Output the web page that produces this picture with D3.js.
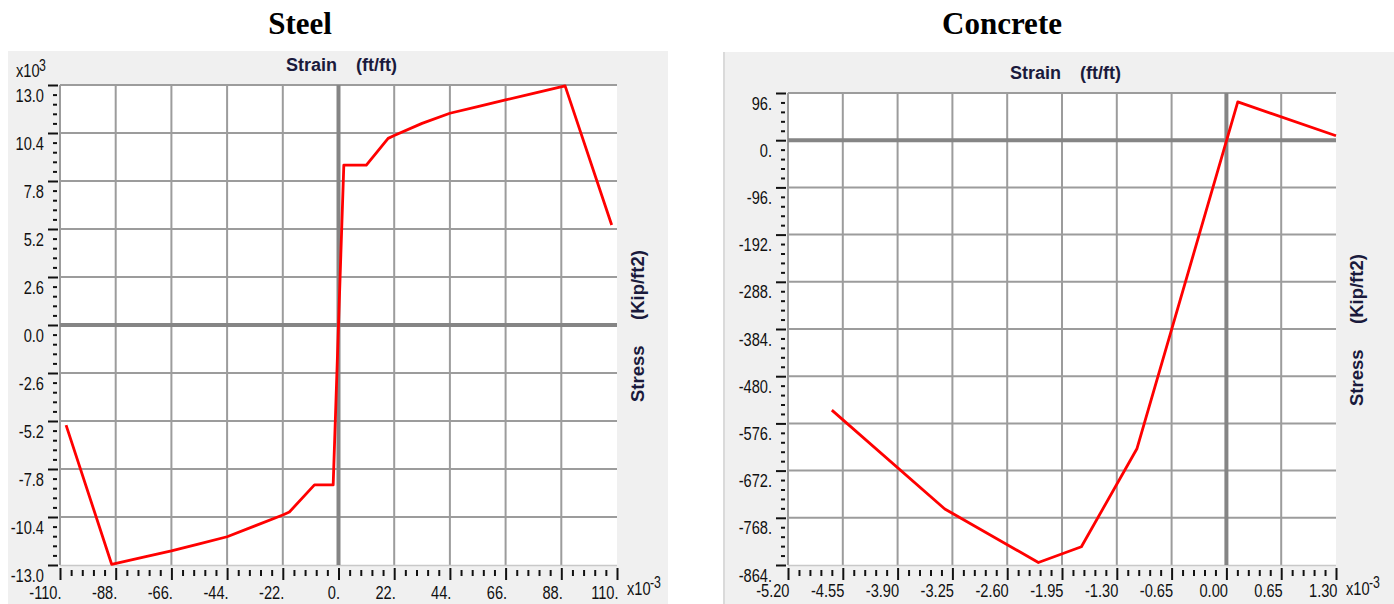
<!DOCTYPE html>
<html><head><meta charset="utf-8">
<script src="https://cdn.jsdelivr.net/npm/d3@7"></script>
<style>
html,body{margin:0;padding:0;background:#fff;}
svg{display:block;}
</style></head><body>
<svg id="c" width="1394" height="604"></svg>
<script>
// ---------- Steel (strain x10^-3 ft/ft, stress x10^3 kip/ft2) ----------
const steelStrain = [-107.6, -89.6, -77, -66, -55, -44, -33, -22, -19.4, -9.5, -2.1, 2.1, 11, 19.6, 22, 33, 44, 55, 66, 77, 89.5, 107.9];
const steelStress = [-5.42, -12.96, -12.57, -12.24, -11.86, -11.47, -10.88, -10.29, -10.13, -8.66, -8.66, 8.66, 8.66, 10.11, 10.26, 10.92, 11.47, 11.83, 12.19, 12.55, 12.95, 5.42];
const steelXTicks = [-110, -88, -66, -44, -22, 0, 22, 44, 66, 88, 110];
const steelXLabels = ["-110.", "-88.", "-66.", "-44.", "-22.", "0.", "22.", "44.", "66.", "88.", "110."];
const steelYTicks = [-13, -10.4, -7.8, -5.2, -2.6, 0, 2.6, 5.2, 7.8, 10.4, 13];
const steelYLabels = ["-13.0", "-10.4", "-7.8", "-5.2", "-2.6", "0.0", "2.6", "5.2", "7.8", "10.4", "13.0"];

// ---------- Concrete (strain x10^-3 ft/ft, stress kip/ft2) ----------
const concreteStrain = [-4.68, -3.34, -2.23, -1.72, -1.06, 0.135, 1.30];
const concreteStress = [-549, -750, -859, -827, -627, 78, 9];
const concreteXTicks = [-5.2, -4.55, -3.9, -3.25, -2.6, -1.95, -1.3, -0.65, 0, 0.65, 1.3];
const concreteXLabels = ["-5.20", "-4.55", "-3.90", "-3.25", "-2.60", "-1.95", "-1.30", "-0.65", "0.00", "0.65", "1.30"];
const concreteYTicks = [-864, -768, -672, -576, -480, -384, -288, -192, -96, 0, 96];
const concreteYLabels = ["-864.", "-768.", "-672.", "-576.", "-480.", "-384.", "-288.", "-192.", "-96.", "0.", "96."];

const chartTitles = ["Steel", "Concrete"];
const xTitle = ["Strain", "(ft/ft)"];
const yTitle = ["Stress", "(Kip/ft2)"];

const svg = d3.select("#c");
const SANS = "'Liberation Sans', Arial, sans-serif";
const SERIF = "'Liberation Serif', 'Times New Roman', serif";
const SX = 0.77; // narrow tick font
const TFS = 19;  // tick font size

function minorsOf(t) {
  const out = [];
  for (let i = 0; i < t.length - 1; i++) {
    const step = (t[i + 1] - t[i]) / 5;
    for (let k = 1; k < 5; k++) out.push(t[i] + step * k);
  }
  return out;
}

function chart(o) {
  const g = svg.append("g");
  // panel
  g.append("rect").attr("x", o.panel[0]).attr("y", o.panel[1])
    .attr("width", o.panel[2]).attr("height", o.panel[3]).attr("fill", "#f0f0f0");
  if (o.panelBorder) {
    g.append("line").attr("x1", o.panel[0]).attr("x2", o.panel[0])
      .attr("y1", o.panel[1]).attr("y2", o.panel[1] + o.panel[3])
      .attr("stroke", "#dadada").attr("stroke-width", 2);
  }
  // title
  g.append("text").attr("x", o.titleX).attr("y", 34).attr("text-anchor", "middle")
    .attr("font-family", SERIF).attr("font-weight", "bold").attr("font-size", 31)
    .attr("fill", "#000").text(o.title);

  const x = d3.scaleLinear().domain([o.xT[0], o.xT[o.xT.length - 1]]).range([o.L, o.R]);
  const y = d3.scaleLinear().domain([o.yT[0], o.yT[o.yT.length - 1]]).range([o.B, o.T]);

  // plot area
  g.append("rect").attr("x", o.L).attr("y", o.T).attr("width", o.R - o.L).attr("height", o.B - o.T)
    .attr("fill", "#fff");

  // grid
  const grid = g.append("g").attr("stroke", "#9c9c9c").attr("stroke-width", 2);
  grid.selectAll(".vx").data(o.xT.filter((d, i) => i < o.xT.length - 1 && d !== 0)).join("line")
    .attr("x1", d => x(d)).attr("x2", d => x(d)).attr("y1", o.T).attr("y2", o.B);
  grid.selectAll(".hy").data(o.yT.filter((d, i) => i > 0 && d !== 0)).join("line")
    .attr("x1", o.L).attr("x2", o.R).attr("y1", d => y(d)).attr("y2", d => y(d));
  g.append("line").attr("x1", o.L).attr("x2", o.R).attr("y1", o.B + 0.5).attr("y2", o.B + 0.5)
    .attr("stroke", "#c8c8c8").attr("stroke-width", 1.5);
  // zero lines
  g.append("line").attr("x1", x(0)).attr("x2", x(0)).attr("y1", o.T).attr("y2", o.B)
    .attr("stroke", "#858585").attr("stroke-width", 4);
  g.append("line").attr("x1", o.L).attr("x2", o.R).attr("y1", y(0)).attr("y2", y(0))
    .attr("stroke", "#858585").attr("stroke-width", 4);

  // data line
  const pts = o.xs.map((v, i) => [v, o.ys[i]]);
  g.append("path").datum(pts)
    .attr("d", d3.line().x(d => x(d[0])).y(d => y(d[1])))
    .attr("fill", "none").attr("stroke", "#ff0000").attr("stroke-width", 2.8)
    .attr("stroke-linejoin", "round");

  // y axis (major)
  const yLab = d => o.yL[o.yT.indexOf(d)];
  const ya = g.append("g").attr("transform", `translate(${o.L - 2},0)`)
    .call(d3.axisLeft(y).tickValues(o.yT).tickSize(10).tickFormat(yLab));
  ya.select(".domain").remove();
  ya.attr("font-family", SANS).attr("font-size", TFS);
  ya.selectAll("line").attr("stroke", "#111").attr("stroke-width", 2);
  ya.selectAll("text").attr("x", 0).attr("dy", null).attr("y", 16)
    .attr("transform", `translate(-14,0) scale(${SX},1)`).attr("fill", "#111").attr("text-anchor", "end");
  // y axis (minor)
  const ym = g.append("g").attr("transform", `translate(${o.L - 3},0)`)
    .call(d3.axisLeft(y).tickValues(minorsOf(o.yT)).tickSize(4).tickFormat(""));
  ym.select(".domain").remove();
  ym.selectAll("line").attr("stroke", "#111").attr("stroke-width", 2);

  // x axis (major)
  const xLab = d => o.xL[o.xT.indexOf(d)];
  const xa = g.append("g").attr("transform", `translate(0,${o.B + 3})`)
    .call(d3.axisBottom(x).tickValues(o.xT).tickSize(12).tickFormat(xLab));
  xa.select(".domain").remove();
  xa.attr("font-family", SANS).attr("font-size", TFS);
  xa.selectAll("line").attr("stroke", "#111").attr("stroke-width", 2);
  xa.selectAll("text").attr("x", 0).attr("dy", null).attr("y", o.xLabY)
    .attr("transform", `translate(1,0) scale(${SX},1)`).attr("fill", "#111").attr("text-anchor", "end");
  // x axis (minor)
  const xm = g.append("g").attr("transform", `translate(0,${o.B + 5})`)
    .call(d3.axisBottom(x).tickValues(minorsOf(o.xT)).tickSize(6).tickFormat(""));
  xm.select(".domain").remove();
  xm.selectAll("line").attr("stroke", "#111").attr("stroke-width", 2);

  // multiplier x10^-3 at bottom right
  const mx = o.R + 10, my = o.B + 30;
  g.append("text").attr("transform", `translate(${mx},${my}) scale(${SX},1)`)
    .attr("font-family", SANS).attr("font-size", TFS).attr("fill", "#111").text("x10");
  g.append("text").attr("transform", `translate(${mx + 23},${my - 7}) scale(${SX},1)`)
    .attr("font-family", SANS).attr("font-size", 16).attr("fill", "#111").text("-3");
  if (o.yMult) {
    g.append("text").attr("transform", `translate(16,77) scale(${SX},1)`)
      .attr("font-family", SANS).attr("font-size", TFS).attr("fill", "#111").text("x10");
    g.append("text").attr("transform", `translate(39,71) scale(${SX},1)`)
      .attr("font-family", SANS).attr("font-size", 16).attr("fill", "#111").text("3");
  }

  // axis titles
  g.append("text").attr("x", o.xTitleX).attr("y", o.xTitleY)
    .attr("font-family", SANS).attr("font-weight", "bold").attr("font-size", 18)
    .attr("fill", "#1a1a3c").text(xTitle[0]);
  g.append("text").attr("x", o.xTitleX + 70).attr("y", o.xTitleY)
    .attr("font-family", SANS).attr("font-weight", "bold").attr("font-size", 18)
    .attr("fill", "#1a1a3c").text(xTitle[1]);
  g.append("text").attr("transform", `translate(${o.R + 27},${o.stressY}) rotate(-90)`)
    .attr("font-family", SANS).attr("font-weight", "bold").attr("font-size", 18.5)
    .attr("fill", "#1a1a3c").text(yTitle[0]);
  g.append("text").attr("transform", `translate(${o.R + 27},${o.stressY - 82}) rotate(-90)`)
    .attr("font-family", SANS).attr("font-weight", "bold").attr("font-size", 18.5)
    .attr("fill", "#1a1a3c").text(yTitle[1]);
}

chart({
  panel: [8, 51, 660, 553], title: chartTitles[0], titleX: 300,
  L: 60, R: 617, T: 85, B: 565,
  xT: steelXTicks, xL: steelXLabels, yT: steelYTicks, yL: steelYLabels,
  xs: steelStrain, ys: steelStress, xLabY: 31, yMult: true,
  xTitleX: 286, xTitleY: 71, stressY: 402
});
chart({
  panel: [724, 52, 670, 552], title: chartTitles[1], titleX: 1002, panelBorder: true,
  L: 788, R: 1336, T: 93, B: 565,
  xT: concreteXTicks, xL: concreteXLabels, yT: concreteYTicks, yL: concreteYLabels,
  xs: concreteStrain, ys: concreteStress, xLabY: 29, yMult: false,
  xTitleX: 1010, xTitleY: 79, stressY: 406
});
</script>
</body></html>
